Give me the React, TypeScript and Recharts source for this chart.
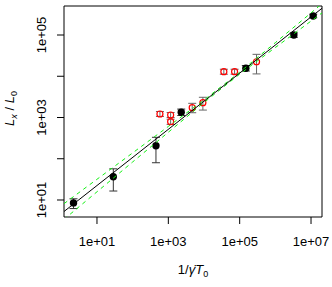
import { ScatterChart, Scatter, XAxis, YAxis, ErrorBar, ReferenceArea, Label } from 'recharts';

// black points: 1/gamma T0, Lx/L0, lower / upper end of error bar
const blackX = [2.2, 28.7, 450, 2300, 149000, 3300000, 11500000];
const blackY = [8.5, 36.7, 207, 1340, 15600, 100000, 290000];
const blackLo = [6.2, 16.5, 80, 1120, 13400, 88000, 262000];
const blackHi = [10.7, 57, 331, 1600, 18200, 113000, 320000];

// red open points
const redX = [582, 1160, 1160, 4670, 9300, 36000, 72000, 297000];
const redY = [1216, 1150, 790, 1730, 2285, 12900, 12900, 22500];
const redLo = [1060, 1000, 680, 1306, 1514, 11200, 11200, 11400];
const redHi = [1400, 1320, 910, 2208, 3090, 14800, 14800, 34000];

// fitted power law (solid) and its band (dashed green)
const fitX = [1.19, 20300000];
const fitY = [5.26, 445000];
const bandX = [1.19, 10, 100, 1000, 10000, 100000, 1000000, 10000000, 20300000];
const bandUpper = [8.15, 31.8, 138.7, 607, 2661, 12530, 65310, 343600, 575400];
const bandLower = [3.4, 15.8, 83.6, 439.5, 2307, 11270, 49770, 217800, 343600];

const xTicks = [10, 1000, 100000, 10000000];
const yTicks = [10, 100, 1000, 10000, 100000];

const xDomain = [1.19, 20300000];
const yDomain = [3.87, 505000];

const font = 'Liberation Sans, Arial, Helvetica, sans-serif';

const withErr = (xs: number[], ys: number[], lo: number[], hi: number[]) =>
  xs.map((x, i) => ({ x, y: ys[i], err: [ys[i] - lo[i], hi[i] - ys[i]] }));

const blackData = withErr(blackX, blackY, blackLo, blackHi);
const redData = withErr(redX, redY, redLo, redHi);
const fitData = fitX.map((x, i) => ({ x, y: fitY[i] }));
const upperData = bandX.map((x, i) => ({ x, y: bandUpper[i] }));
const lowerData = bandX.map((x, i) => ({ x, y: bandLower[i] }));

const fmt = (v: number) => {
  const e = Math.round(Math.log10(v));
  return '1e+' + String(e).padStart(2, '0');
};

function YTick(props: any) {
  const { x, y, payload } = props;
  const e = Math.round(Math.log10(payload.value));
  if (e % 2 === 0) return <g />;
  const tx = x - 13;
  return (
    <text x={tx} y={y} transform={`rotate(-90 ${tx} ${y})`} textAnchor="middle"
      dominantBaseline="central" fontSize={13} fontFamily={font} fill="#000">
      {fmt(payload.value)}
    </text>
  );
}

function XTitle(props: any) {
  const vb = props.viewBox;
  return (
    <text x={vb.x + vb.width / 2} y={vb.y + 57} textAnchor="middle" fontSize={13} fontFamily={font} fill="#000">
      <tspan>1/</tspan>
      <tspan fontStyle="italic">{'\u03B3\u0307T'}</tspan>
      <tspan fontSize={9} dy={3}>0</tspan>
    </text>
  );
}

function YTitle(props: any) {
  const vb = props.viewBox;
  const tx = vb.x + 14;
  const ty = vb.y + vb.height / 2 - 3;
  return (
    <text x={tx} y={ty} transform={`rotate(-90 ${tx} ${ty})`} textAnchor="middle" fontSize={13} fontFamily={font} fill="#000">
      <tspan fontStyle="italic">L</tspan>
      <tspan fontStyle="italic" fontSize={9} dy={3}>x</tspan>
      <tspan dy={-3}> / </tspan>
      <tspan fontStyle="italic">L</tspan>
      <tspan fontSize={9} dy={3}>0</tspan>
    </text>
  );
}

const Dot = (props: any) => <circle cx={props.cx} cy={props.cy} r={3.7} fill="#000" />;
const Ring = (props: any) => <circle cx={props.cx} cy={props.cy} r={3} fill="none" stroke="#ff0000" strokeWidth={1.2} />;
const NoShape = () => <g />;

export default function App() {
  return (
    <div style={{ position: 'absolute', left: 0, top: 0, background: '#fff' }}>
      <ScatterChart width={332} height={287} margin={{ top: 6, right: 10, bottom: 0, left: 0 }}>
        <XAxis type="number" dataKey="x" scale="log" domain={xDomain} allowDataOverflow ticks={xTicks}
          tickFormatter={fmt} height={70} tickSize={7} tickMargin={13} axisLine={false}
          tickLine={{ stroke: '#000' }} tick={{ fill: '#000', fontSize: 13, fontFamily: font }}>
          <Label content={XTitle} />
        </XAxis>
        <YAxis type="number" dataKey="y" scale="log" domain={yDomain} allowDataOverflow ticks={yTicks}
          width={64} tickSize={7} axisLine={false} tickLine={{ stroke: '#000' }} tick={YTick}>
          <Label content={YTitle} />
        </YAxis>
        <Scatter data={redData} shape={Ring} isAnimationActive={false}>
          <ErrorBar dataKey="err" direction="y" width={4} stroke="#666" strokeWidth={1} />
        </Scatter>
        <Scatter data={blackData} shape={Dot} isAnimationActive={false}>
          <ErrorBar dataKey="err" direction="y" width={4} stroke="#333" strokeWidth={1} />
        </Scatter>
        <Scatter data={upperData} shape={NoShape} line={{ stroke: '#11f011', strokeWidth: 1, strokeDasharray: '4 4' }} isAnimationActive={false} />
        <Scatter data={lowerData} shape={NoShape} line={{ stroke: '#11f011', strokeWidth: 1, strokeDasharray: '4 4' }} isAnimationActive={false} />
        <Scatter data={fitData} shape={NoShape} line={{ stroke: '#000', strokeWidth: 1 }} isAnimationActive={false} />
        <ReferenceArea x1={xDomain[0]} x2={xDomain[1]} y1={yDomain[0]} y2={yDomain[1]} fill="none" stroke="#000" strokeWidth={1} fillOpacity={0} ifOverflow="visible" />
      </ScatterChart>
    </div>
  );
}
